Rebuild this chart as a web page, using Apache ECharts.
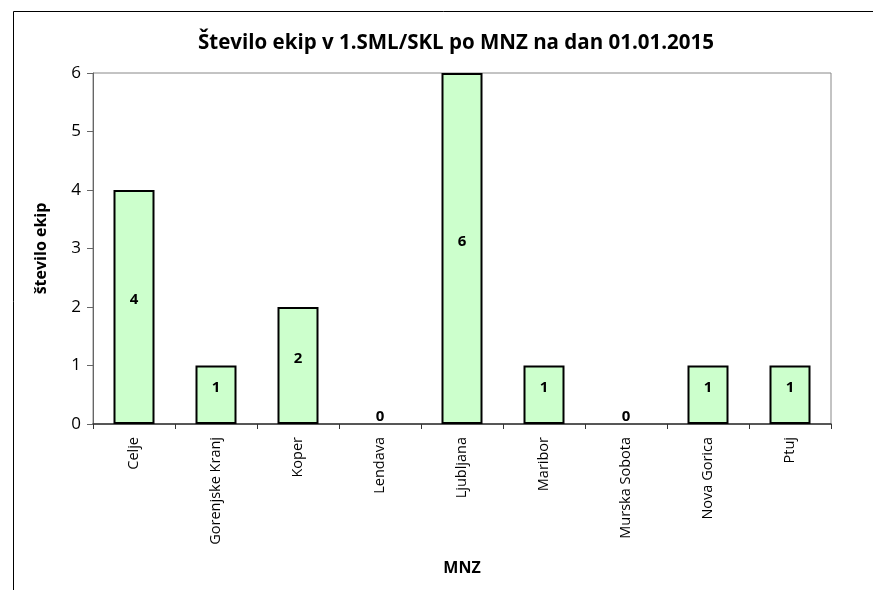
<!DOCTYPE html>
<html>
<head>
<meta charset="utf-8">
<script src="https://cdn.jsdelivr.net/npm/echarts@6/dist/echarts.min.js"></script>
<style>
  html, body { margin: 0; padding: 0; background: #fff; }
  #chart { width: 873px; height: 590px; }
</style>
</head>
<body>
<div id="chart"></div>
<script>
// podatki
const categories = ["Celje", "Gorenjske Kranj", "Koper", "Lendava", "Ljubljana", "Maribor", "Murska Sobota", "Nova Gorica", "Ptuj"];
const teamCounts = [4, 1, 2, 0, 6, 1, 0, 1, 1];
const yTicks = [0, 1, 2, 3, 4, 5, 6];

const fontFamily = "'Open Sans', 'Liberation Sans', sans-serif";

const chart = echarts.init(document.getElementById("chart"));

const option = {
  animation: false,
  graphic: [
    {
      // outer frame (only left/top edges visible)
      type: "rect",
      shape: { x: 13.5, y: 11.5, width: 880, height: 600 },
      style: { fill: null, stroke: "#000", lineWidth: 1 },
      silent: true,
    },
  ],
  title: {
    text: "Število ekip v 1.SML/SKL po MNZ na dan 01.01.2015",
    left: 451,
    top: 28,
    textAlign: "center",
    textStyle: { fontFamily, fontSize: 20.5, fontWeight: "bold", color: "#000" },
  },
  grid: {
    left: 93,
    top: 73,
    right: 42,
    bottom: 166,
    show: true,
    borderColor: "#888",
    borderWidth: 1,
  },
  xAxis: {
    type: "category",
    data: categories,
    name: "MNZ",
    nameLocation: "middle",
    nameGap: 136,
    nameTextStyle: { fontFamily, fontSize: 16, fontWeight: "bold", color: "#000" },
    axisLine: { lineStyle: { color: "#333", width: 1.5 } },
    axisTick: { show: true, length: 5, lineStyle: { color: "#333" } },
    axisLabel: { rotate: 90, margin: 13, fontFamily, fontSize: 14.5, color: "#000" },
  },
  yAxis: {
    type: "value",
    min: yTicks[0],
    max: yTicks[yTicks.length - 1],
    interval: 1,
    name: "število ekip",
    nameLocation: "middle",
    nameRotate: 90,
    nameGap: 44,
    nameTextStyle: { fontFamily, fontSize: 16, fontWeight: "bold", color: "#000" },
    axisLine: { show: true, lineStyle: { color: "#666", width: 1 } },
    axisTick: { show: true, length: 6, lineStyle: { color: "#666" } },
    axisLabel: { margin: 12, fontFamily, fontSize: 17, color: "#000" },
    splitLine: { show: false },
  },
  series: [
    {
      type: "bar",
      barWidth: "50%",
      data: teamCounts.map((v) => ({
        value: v,
        itemStyle: v === 0 ? { borderWidth: 0 } : undefined,
        label: v === 0
          ? { position: "insideBottom", distance: 0, offset: [0, 0] }
          : { position: "inside", offset: [0, -7] },
      })),
      itemStyle: { color: "#ccffcc", borderColor: "#000", borderWidth: 2 },
      label: {
        show: true,
        fontFamily,
        fontSize: 15,
        fontWeight: "bold",
        color: "#000",
      },
    },
  ],
};

chart.setOption(option);
</script>
</body>
</html>
